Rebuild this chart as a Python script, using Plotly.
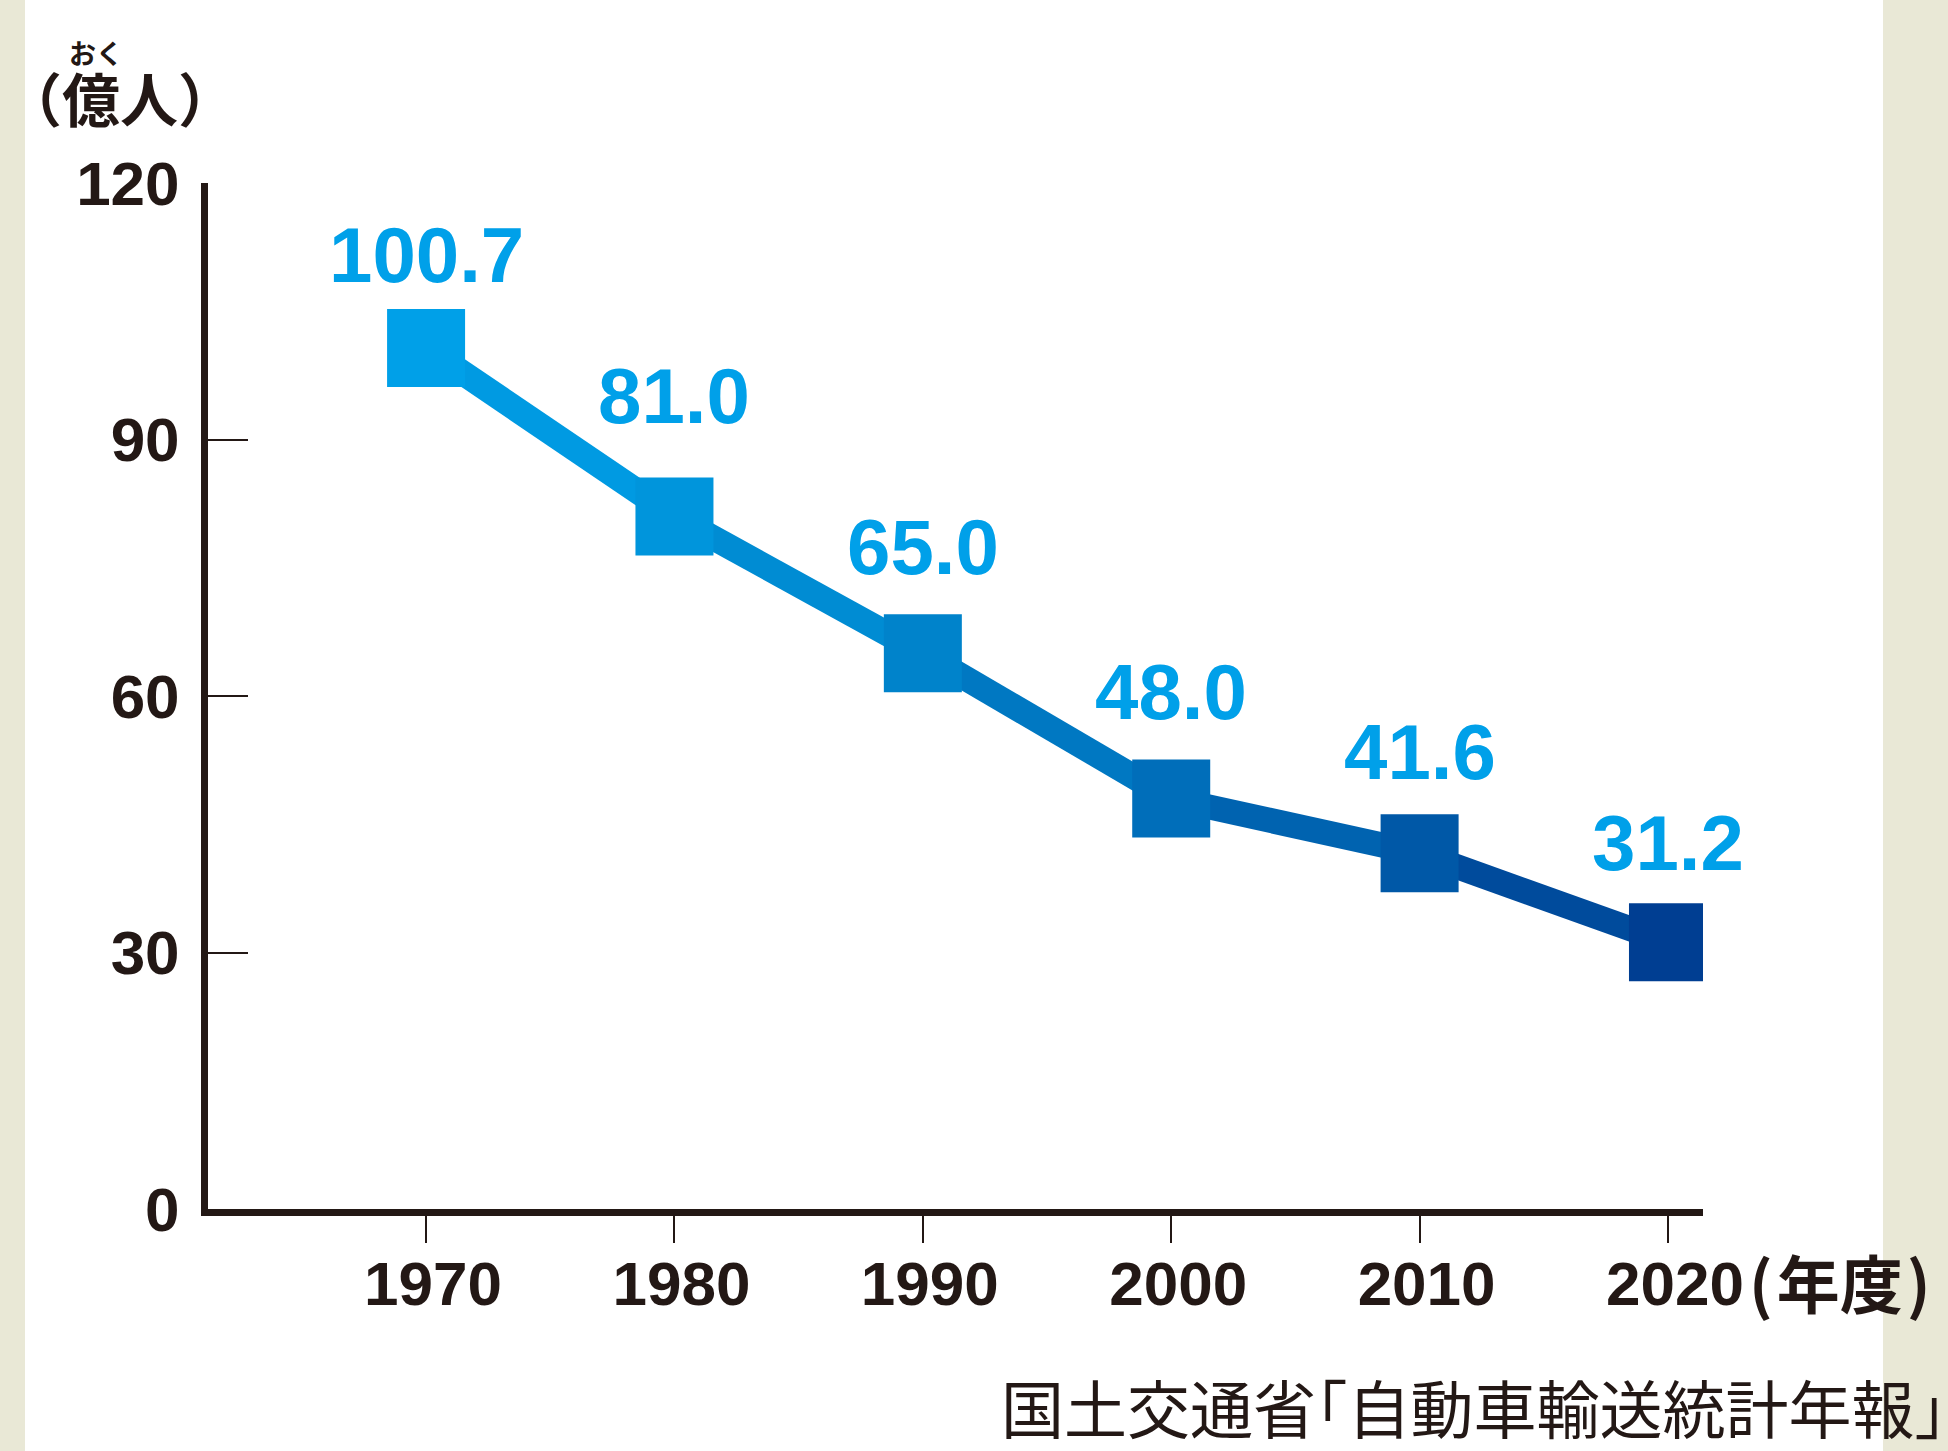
import plotly.graph_objects as go

# ---- data ----
years = [1970, 1980, 1990, 2000, 2010, 2020]
passengers = [100.7, 81.0, 65.0, 48.0, 41.6, 31.2]   # 億人
value_labels = ["100.7", "81.0", "65.0", "48.0", "41.6", "31.2"]
y_ticks = [0, 30, 60, 90, 120]
x_ticks = [1970, 1980, 1990, 2000, 2010, 2020]

# ---- styling ----
point_colors = ["#00A0E8", "#0095DC", "#0083CB", "#006EBA", "#0058A7", "#003E92"]
label_shifts = [93, 120, 106, 107, 101, 99]   # px above each marker
label_color = "#00A0E9"
ink = "#231815"
num_font = "Liberation Sans"
jp_font = "Noto Sans CJK JP"

W, H = 1948, 1451
L, R, T, B = 208, 245, 183, 242
pw, ph = W - L - R, H - T - B


def px_x(p):
    return (p - L) / pw


def px_y(p):
    return (H - B - p) / ph


def hexmix(a, b):
    a = [int(a[i:i + 2], 16) for i in (1, 3, 5)]
    b = [int(b[i:i + 2], 16) for i in (1, 3, 5)]
    return "#" + "".join(f"{(u + v) // 2:02X}" for u, v in zip(a, b))


fig = go.Figure()

# line segments (one colour per segment approximates the gradient)
for i in range(len(years) - 1):
    fig.add_trace(go.Scatter(
        x=years[i:i + 2], y=passengers[i:i + 2], mode="lines",
        line=dict(color=hexmix(point_colors[i], point_colors[i + 1]), width=25),
        hoverinfo="skip", showlegend=False,
    ))

# square markers
fig.add_trace(go.Scatter(
    x=years, y=passengers, mode="markers",
    marker=dict(symbol="square", size=78, color=point_colors, line=dict(width=0)),
    showlegend=False,
))

# value labels
for xv, yv, t, s in zip(years, passengers, value_labels, label_shifts):
    fig.add_annotation(
        x=xv, y=yv, xref="x", yref="y", text=t, showarrow=False,
        yshift=s, font=dict(family=num_font, size=78, color=label_color, weight="bold"),
    )

# y-axis unit with ruby
fig.add_annotation(
    x=px_x(120), y=px_y(97), xref="paper", yref="paper", text="（億人）",
    showarrow=False, xanchor="center", yanchor="middle",
    font=dict(family=jp_font, size=58, color=ink, weight="bold"),
)
fig.add_annotation(
    x=px_x(96), y=px_y(53), xref="paper", yref="paper", text="おく",
    showarrow=False, xanchor="center", yanchor="middle",
    font=dict(family=jp_font, size=27, color=ink, weight="bold"),
)

# x-axis unit
fig.add_annotation(
    x=px_x(1747), y=px_y(1280), xref="paper", yref="paper", text="(\u200a年度\u200a)",
    showarrow=False, xanchor="left", yanchor="middle",
    font=dict(family=jp_font, size=63, color=ink, weight="bold"),
)

# source
fig.add_annotation(
    x=px_x(W), y=px_y(1405), xref="paper", yref="paper",
    text="国土交通省｢自動車輸送統計年報｣",
    showarrow=False, xanchor="right", yanchor="middle",
    font=dict(family=jp_font, size=63, color=ink),
)

# beige side stripes
fig.add_shape(type="rect", xref="paper", yref="paper",
              x0=px_x(-5), x1=px_x(25), y0=px_y(H + 5), y1=px_y(-5),
              fillcolor="#E9E8D6", line=dict(width=0), layer="below")
fig.add_shape(type="rect", xref="paper", yref="paper",
              x0=px_x(1883), x1=px_x(W + 5), y0=px_y(H + 5), y1=px_y(-5),
              fillcolor="#E9E8D6", line=dict(width=0), layer="below")

fig.update_layout(
    width=W, height=H,
    margin=dict(l=L, r=R, t=T, b=B, pad=0),
    paper_bgcolor="white", plot_bgcolor="white",
    showlegend=False,
    xaxis=dict(
        range=[1961.22, 2021.41], tickvals=x_ticks, ticktext=[str(v) for v in x_ticks],
        showgrid=False, zeroline=False,
        showline=True, linecolor=ink, linewidth=7,
        ticks="outside", ticklen=27, tickwidth=2, tickcolor=ink,
        tickfont=dict(family=num_font, size=62, color=ink, weight="bold"),
        ticklabelstandoff=-12, ticklabelshift=7,
    ),
    yaxis=dict(
        range=[0, 120], tickvals=y_ticks, ticktext=[str(v) for v in y_ticks],
        showgrid=False, zeroline=False,
        showline=True, linecolor=ink, linewidth=7,
        ticks="inside", ticklen=40, tickwidth=2, tickcolor=ink,
        tickfont=dict(family=num_font, size=62, color=ink, weight="bold"),
        ticklabelstandoff=9,
    ),
)

fig.write_html(
    "out.html",
    config={"displayModeBar": False},
    post_script="document.body.style.margin='0px';document.body.style.overflow='hidden';",
)
